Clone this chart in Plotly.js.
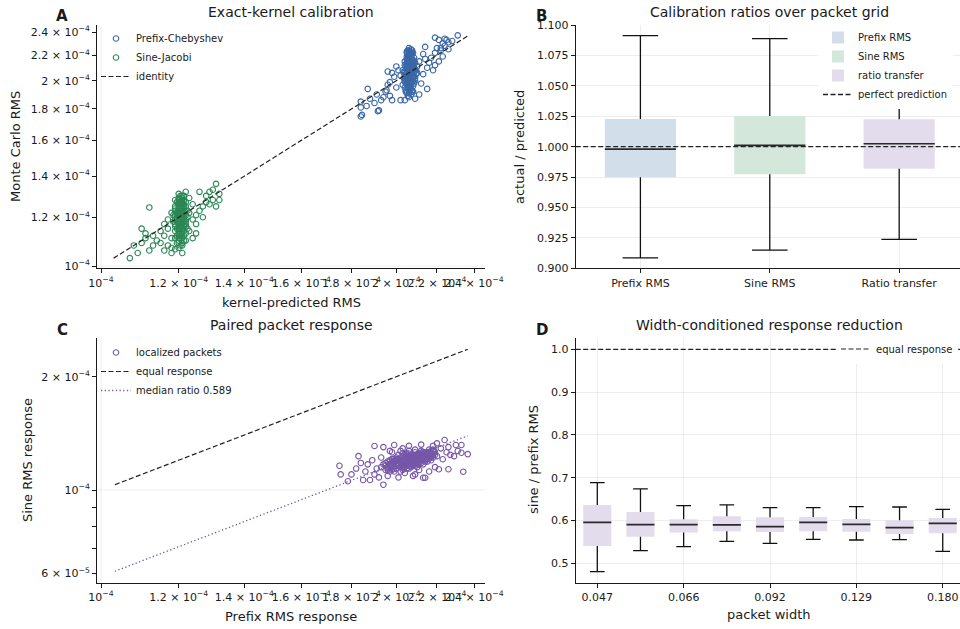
<!DOCTYPE html>
<html><head><meta charset="utf-8">
<script src="https://cdn.plot.ly/plotly-3.0.1.min.js"></script>
<style>html,body{margin:0;padding:0;background:#fff}#chart{width:960px;height:629px}</style>
</head><body><div id="chart"></div>
<script>
// ---------- Panel A: exact-kernel calibration (kernel-predicted vs Monte Carlo RMS) ----------
const aPrefixPred = [
2.05e-4,2.06e-4,2.07e-4,2.05e-4,2.08e-4,2.06e-4,2.04e-4,2.07e-4,2.06e-4,2.05e-4,
2.08e-4,2.04e-4,2.09e-4,2.07e-4,2.06e-4,2.05e-4,2.08e-4,2.03e-4,2.07e-4,2.06e-4,
2.09e-4,2.05e-4,2.04e-4,2.08e-4,2.06e-4,2.07e-4,2.05e-4,2.10e-4,2.04e-4,2.06e-4,
2.07e-4,2.05e-4,2.08e-4,2.06e-4,2.03e-4,2.09e-4,2.07e-4,2.05e-4,2.06e-4,2.08e-4,
2.04e-4,2.06e-4,2.07e-4,2.05e-4,2.06e-4,2.10e-4,2.02e-4,2.07e-4,2.05e-4,2.08e-4,
2.055e-4,2.065e-4,2.075e-4,2.045e-4,2.085e-4,2.065e-4,2.055e-4,2.075e-4,2.045e-4,2.085e-4,
2.065e-4,2.055e-4,2.075e-4,2.035e-4,2.095e-4,2.065e-4,2.055e-4,2.075e-4,2.045e-4,2.085e-4,
2.065e-4,2.055e-4,2.075e-4,2.06e-4,2.07e-4,2.05e-4,2.08e-4,2.06e-4,2.07e-4,2.04e-4,
2.045e-4,2.055e-4,2.065e-4,2.075e-4,2.085e-4,2.05e-4,2.06e-4,2.07e-4,2.08e-4,2.09e-4,
2.045e-4,2.055e-4,2.065e-4,2.075e-4,2.085e-4,2.05e-4,2.06e-4,2.07e-4,2.08e-4,2.04e-4,
2.055e-4,2.065e-4,2.075e-4,2.05e-4,2.06e-4,2.07e-4,2.08e-4,2.045e-4,2.065e-4,2.085e-4,
2.035e-4,2.095e-4,2.055e-4,2.075e-4,2.06e-4,2.07e-4,2.05e-4,2.08e-4,2.065e-4,2.055e-4,
1.84e-4,1.845e-4,1.84e-4,1.865e-4,1.87e-4,1.84e-4,1.88e-4,1.90e-4,1.92e-4,1.94e-4,
1.91e-4,1.93e-4,1.95e-4,1.96e-4,1.97e-4,1.98e-4,1.99e-4,2.00e-4,1.98e-4,2.01e-4,
1.97e-4,2.00e-4,2.02e-4,2.04e-4,2.09e-4,2.11e-4,2.12e-4,2.13e-4,2.11e-4,2.14e-4,
2.13e-4,2.15e-4,2.16e-4,2.17e-4,2.18e-4,2.15e-4,2.19e-4,2.20e-4,2.21e-4,2.22e-4,
2.23e-4,2.24e-4,2.25e-4,2.26e-4,2.28e-4,2.31e-4,2.23e-4,2.21e-4,2.26e-4,2.19e-4,
2.19e-4,2.24e-4,2.14e-4,2.22e-4,1.915e-4,1.955e-4,1.96e-4];
const aPrefixMC = [
2.00e-4,2.05e-4,1.98e-4,2.10e-4,2.12e-4,1.93e-4,2.03e-4,2.20e-4,2.24e-4,2.22e-4,
2.16e-4,1.95e-4,2.02e-4,2.08e-4,2.14e-4,2.06e-4,1.96e-4,2.08e-4,1.90e-4,1.88e-4,
2.09e-4,1.98e-4,2.12e-4,2.04e-4,2.18e-4,2.01e-4,1.91e-4,2.06e-4,2.00e-4,2.10e-4,
2.13e-4,2.16e-4,1.92e-4,2.02e-4,1.97e-4,2.14e-4,2.22e-4,2.04e-4,1.96e-4,2.00e-4,
2.07e-4,2.07e-4,2.11e-4,2.13e-4,1.99e-4,2.11e-4,2.04e-4,1.94e-4,2.19e-4,2.08e-4,
2.03e-4,2.09e-4,2.05e-4,2.09e-4,2.06e-4,1.97e-4,2.15e-4,2.17e-4,1.93e-4,2.10e-4,
2.21e-4,1.94e-4,1.99e-4,2.02e-4,2.05e-4,2.12e-4,2.08e-4,2.14e-4,2.05e-4,2.18e-4,
2.00e-4,1.89e-4,2.24e-4,2.26e-4,2.25e-4,2.01e-4,2.02e-4,2.16e-4,1.96e-4,2.15e-4,
1.92e-4,1.95e-4,1.94e-4,1.93e-4,1.98e-4,2.09e-4,2.03e-4,2.04e-4,2.10e-4,2.00e-4,
2.11e-4,2.12e-4,2.06e-4,2.21e-4,2.03e-4,2.17e-4,2.21e-4,2.19e-4,2.14e-4,1.99e-4,
2.20e-4,2.15e-4,2.07e-4,2.23e-4,2.01e-4,2.16e-4,2.22e-4,2.01e-4,2.04e-4,2.13e-4,
2.06e-4,2.08e-4,2.24e-4,1.92e-4,1.91e-4,2.06e-4,1.97e-4,2.11e-4,2.23e-4,1.99e-4,
1.75e-4,1.76e-4,1.85e-4,1.82e-4,1.94e-4,1.81e-4,1.87e-4,1.84e-4,1.79e-4,1.88e-4,
1.90e-4,1.86e-4,1.92e-4,1.97e-4,1.89e-4,1.86e-4,2.03e-4,1.95e-4,2.06e-4,2.08e-4,
1.99e-4,2.11e-4,1.86e-4,1.86e-4,1.87e-4,1.90e-4,1.98e-4,2.05e-4,2.15e-4,2.17e-4,
2.21e-4,2.10e-4,2.14e-4,2.18e-4,2.08e-4,1.94e-4,2.22e-4,2.26e-4,2.15e-4,2.24e-4,
2.30e-4,2.28e-4,2.33e-4,2.25e-4,2.32e-4,2.37e-4,2.19e-4,2.33e-4,2.31e-4,2.12e-4,
2.35e-4,2.34e-4,2.27e-4,2.26e-4,1.785e-4,1.93e-4,2.07e-4];
const aSinePred = [
1.20e-4,1.21e-4,1.20e-4,1.21e-4,1.19e-4,1.22e-4,1.20e-4,1.21e-4,1.20e-4,1.21e-4,
1.19e-4,1.22e-4,1.20e-4,1.21e-4,1.20e-4,1.21e-4,1.20e-4,1.19e-4,1.22e-4,1.20e-4,
1.21e-4,1.20e-4,1.19e-4,1.22e-4,1.21e-4,1.20e-4,1.21e-4,1.20e-4,1.19e-4,1.22e-4,
1.20e-4,1.21e-4,1.20e-4,1.19e-4,1.21e-4,1.20e-4,1.22e-4,1.21e-4,1.20e-4,1.21e-4,
1.19e-4,1.22e-4,1.20e-4,1.21e-4,1.20e-4,
1.205e-4,1.215e-4,1.205e-4,1.195e-4,1.215e-4,1.205e-4,1.195e-4,1.215e-4,1.205e-4,1.215e-4,
1.205e-4,1.195e-4,1.215e-4,1.205e-4,1.195e-4,1.225e-4,1.205e-4,1.215e-4,1.185e-4,1.225e-4,
1.195e-4,1.205e-4,1.215e-4,1.20e-4,1.21e-4,1.19e-4,1.22e-4,1.205e-4,1.215e-4,1.20e-4,
1.21e-4,1.195e-4,1.205e-4,1.215e-4,1.20e-4,1.21e-4,1.19e-4,1.22e-4,1.205e-4,1.215e-4,
1.20e-4,1.21e-4,1.195e-4,1.205e-4,1.215e-4,1.20e-4,1.21e-4,1.19e-4,1.22e-4,1.205e-4,
1.215e-4,1.20e-4,1.21e-4,1.195e-4,1.205e-4,1.215e-4,1.20e-4,1.21e-4,1.185e-4,1.225e-4,
1.07e-4,1.08e-4,1.09e-4,1.10e-4,1.11e-4,1.10e-4,1.12e-4,1.12e-4,1.13e-4,1.14e-4,
1.15e-4,1.15e-4,1.16e-4,1.17e-4,1.16e-4,1.17e-4,1.18e-4,1.17e-4,1.18e-4,1.18e-4,
1.16e-4,1.19e-4,1.21e-4,1.23e-4,1.24e-4,1.25e-4,1.27e-4,1.28e-4,1.26e-4,1.29e-4,
1.22e-4,1.23e-4,1.24e-4,1.25e-4,1.26e-4,1.27e-4,1.28e-4,1.29e-4,1.30e-4,1.31e-4,
1.31e-4,1.32e-4,1.32e-4,1.30e-4,1.24e-4,1.23e-4,1.25e-4,1.18e-4,1.13e-4,1.11e-4];
const aSineMC = [
1.18e-4,1.20e-4,1.15e-4,1.22e-4,1.17e-4,1.19e-4,1.24e-4,1.13e-4,1.10e-4,1.26e-4,
1.21e-4,1.16e-4,1.20e-4,1.17e-4,1.27e-4,1.29e-4,1.31e-4,1.14e-4,1.23e-4,1.12e-4,
1.08e-4,1.07e-4,1.19e-4,1.21e-4,1.15e-4,1.22e-4,1.24e-4,1.16e-4,1.23e-4,1.13e-4,
1.26e-4,1.11e-4,1.28e-4,1.11e-4,1.19e-4,1.09e-4,1.27e-4,1.30e-4,1.14e-4,1.21e-4,
1.25e-4,1.18e-4,1.19e-4,1.23e-4,1.17e-4,
1.16e-4,1.18e-4,1.21e-4,1.15e-4,1.25e-4,1.12e-4,1.20e-4,1.10e-4,1.23e-4,1.14e-4,
1.19e-4,1.27e-4,1.28e-4,1.30e-4,1.09e-4,1.20e-4,1.13e-4,1.22e-4,1.18e-4,1.15e-4,
1.22e-4,1.24e-4,1.16e-4,1.13e-4,1.27e-4,1.24e-4,1.25e-4,1.11e-4,1.20e-4,1.21e-4,
1.09e-4,1.12e-4,1.27e-4,1.26e-4,1.29e-4,1.14e-4,1.28e-4,1.10e-4,1.17e-4,1.12e-4,
1.23e-4,1.16e-4,1.18e-4,1.08e-4,1.30e-4,1.11e-4,1.25e-4,1.16e-4,1.17e-4,1.26e-4,
1.24e-4,1.18e-4,1.28e-4,1.22e-4,1.15e-4,1.19e-4,1.25e-4,1.18e-4,1.21e-4,1.23e-4,
1.03e-4,1.08e-4,1.05e-4,1.15e-4,1.11e-4,1.09e-4,1.06e-4,1.245e-4,1.12e-4,1.10e-4,
1.09e-4,1.14e-4,1.12e-4,1.08e-4,1.17e-4,1.15e-4,1.07e-4,1.19e-4,1.22e-4,1.11e-4,
1.06e-4,1.065e-4,1.05e-4,1.22e-4,1.19e-4,1.21e-4,1.25e-4,1.27e-4,1.32e-4,1.32e-4,
1.32e-4,1.14e-4,1.11e-4,1.17e-4,1.23e-4,1.20e-4,1.30e-4,1.26e-4,1.28e-4,1.25e-4,
1.36e-4,1.28e-4,1.31e-4,1.33e-4,1.26e-4,1.29e-4,1.13e-4,1.05e-4,1.08e-4,1.13e-4];

// ---------- Panel B: calibration ratios (box summaries) ----------
const bCats   = ["Prefix RMS", "Sine RMS", "Ratio transfer"];
const bLegend = ["Prefix RMS", "Sine RMS", "ratio transfer"];
const bLow  = [0.9085, 0.9150, 0.9238];
const bQ1   = [0.9748, 0.9773, 0.9819];
const bMed  = [0.9980, 1.0010, 1.0024];
const bQ3   = [1.0227, 1.0252, 1.0225];
const bHigh = [1.0912, 1.0888, 1.0650];

// ---------- Panel C: paired packet response ----------
const cPrefix = [
1.93e-4,1.94e-4,1.95e-4,1.96e-4,1.96e-4,1.97e-4,1.98e-4,1.98e-4,1.99e-4,1.99e-4,
2.00e-4,2.00e-4,2.01e-4,2.01e-4,2.02e-4,2.02e-4,2.03e-4,2.03e-4,2.04e-4,2.04e-4,
2.05e-4,2.05e-4,2.05e-4,2.06e-4,2.06e-4,2.07e-4,2.07e-4,2.08e-4,2.08e-4,2.08e-4,
2.09e-4,2.09e-4,2.10e-4,2.10e-4,2.11e-4,2.11e-4,2.12e-4,2.12e-4,2.13e-4,2.13e-4,
2.14e-4,2.14e-4,2.15e-4,2.15e-4,2.16e-4,2.16e-4,2.17e-4,2.17e-4,2.18e-4,2.19e-4,
2.20e-4,2.18e-4,2.03e-4,2.06e-4,2.10e-4,2.01e-4,2.12e-4,1.97e-4,2.04e-4,2.09e-4,
1.95e-4,2.00e-4,2.07e-4,2.13e-4,2.02e-4,2.11e-4,2.05e-4,2.08e-4,2.10e-4,2.14e-4,
2.16e-4,1.99e-4,2.06e-4,2.03e-4,2.12e-4,
2.015e-4,2.025e-4,2.035e-4,2.045e-4,2.055e-4,2.065e-4,2.075e-4,2.085e-4,2.095e-4,2.105e-4,
2.115e-4,2.125e-4,2.135e-4,2.145e-4,2.155e-4,2.165e-4,2.175e-4,1.985e-4,1.975e-4,1.965e-4,
2.045e-4,2.065e-4,2.095e-4,2.125e-4,2.085e-4,2.035e-4,2.155e-4,2.105e-4,2.005e-4,2.185e-4,
1.95e-4,1.96e-4,1.97e-4,1.98e-4,1.99e-4,2.00e-4,2.01e-4,2.02e-4,2.03e-4,2.04e-4,
2.05e-4,2.06e-4,2.07e-4,2.08e-4,2.09e-4,2.10e-4,2.11e-4,2.12e-4,2.13e-4,2.14e-4,
2.15e-4,2.16e-4,2.17e-4,2.18e-4,2.19e-4,1.97e-4,1.99e-4,2.01e-4,2.03e-4,2.05e-4,
2.07e-4,2.09e-4,2.11e-4,2.13e-4,2.15e-4,2.17e-4,1.98e-4,2.00e-4,2.02e-4,2.04e-4,
2.06e-4,2.08e-4,2.10e-4,2.12e-4,2.14e-4,2.16e-4,2.00e-4,2.04e-4,2.08e-4,2.12e-4,
2.02e-4,2.06e-4,2.10e-4,2.14e-4,1.96e-4,2.18e-4,2.05e-4,2.09e-4,2.13e-4,2.03e-4,
1.75e-4,1.755e-4,1.785e-4,1.80e-4,1.83e-4,1.82e-4,1.84e-4,1.85e-4,1.86e-4,1.87e-4,
1.88e-4,1.89e-4,1.90e-4,1.90e-4,1.91e-4,1.92e-4,1.94e-4,1.94e-4,1.93e-4,1.96e-4,
1.99e-4,1.98e-4,2.01e-4,2.03e-4,2.06e-4,2.09e-4,2.12e-4,2.13e-4,2.14e-4,2.16e-4,
2.18e-4,2.19e-4,2.21e-4,2.22e-4,2.23e-4,2.24e-4,2.25e-4,2.26e-4,2.26e-4,2.27e-4,
2.29e-4,2.30e-4,2.31e-4,2.33e-4,2.33e-4,2.34e-4,2.365e-4,2.20e-4,2.08e-4,1.97e-4];
const cSine = [
1.15e-4,1.17e-4,1.13e-4,1.19e-4,1.15e-4,1.17e-4,1.13e-4,1.21e-4,1.16e-4,1.19e-4,
1.14e-4,1.22e-4,1.18e-4,1.16e-4,1.20e-4,1.12e-4,1.17e-4,1.23e-4,1.19e-4,1.15e-4,
1.21e-4,1.17e-4,1.25e-4,1.19e-4,1.14e-4,1.22e-4,1.18e-4,1.20e-4,1.24e-4,1.16e-4,
1.21e-4,1.18e-4,1.23e-4,1.19e-4,1.25e-4,1.21e-4,1.22e-4,1.18e-4,1.24e-4,1.20e-4,
1.26e-4,1.22e-4,1.23e-4,1.19e-4,1.25e-4,1.21e-4,1.27e-4,1.23e-4,1.24e-4,1.26e-4,
1.23e-4,1.28e-4,1.13e-4,1.27e-4,1.15e-4,1.24e-4,1.27e-4,1.20e-4,1.11e-4,1.28e-4,
1.16e-4,1.18e-4,1.15e-4,1.17e-4,1.27e-4,1.13e-4,1.19e-4,1.22e-4,1.21e-4,1.20e-4,
1.28e-4,1.12e-4,1.23e-4,1.20e-4,1.24e-4,
1.19e-4,1.16e-4,1.21e-4,1.18e-4,1.23e-4,1.20e-4,1.17e-4,1.23e-4,1.20e-4,1.25e-4,
1.22e-4,1.20e-4,1.25e-4,1.23e-4,1.26e-4,1.24e-4,1.25e-4,1.18e-4,1.15e-4,1.17e-4,
1.25e-4,1.16e-4,1.24e-4,1.26e-4,1.19e-4,1.14e-4,1.22e-4,1.17e-4,1.20e-4,1.27e-4,
1.18e-4,1.14e-4,1.19e-4,1.16e-4,1.21e-4,1.17e-4,1.20e-4,1.15e-4,1.19e-4,1.22e-4,
1.16e-4,1.21e-4,1.24e-4,1.17e-4,1.23e-4,1.20e-4,1.19e-4,1.25e-4,1.22e-4,1.24e-4,
1.21e-4,1.23e-4,1.22e-4,1.27e-4,1.24e-4,1.12e-4,1.14e-4,1.21e-4,1.15e-4,1.23e-4,
1.20e-4,1.26e-4,1.17e-4,1.26e-4,1.25e-4,1.20e-4,1.19e-4,1.16e-4,1.22e-4,1.17e-4,
1.18e-4,1.21e-4,1.22e-4,1.20e-4,1.23e-4,1.26e-4,1.20e-4,1.24e-4,1.18e-4,1.21e-4,
1.18e-4,1.25e-4,1.18e-4,1.19e-4,1.13e-4,1.22e-4,1.14e-4,1.16e-4,1.21e-4,1.25e-4,
1.16e-4,1.10e-4,1.055e-4,1.10e-4,1.23e-4,1.14e-4,1.18e-4,1.063e-4,1.12e-4,1.17e-4,
1.063e-4,1.20e-4,1.309e-4,1.10e-4,1.14e-4,1.08e-4,1.30e-4,1.033e-4,1.22e-4,1.09e-4,
1.317e-4,1.26e-4,1.08e-4,1.29e-4,1.31e-4,1.10e-4,1.32e-4,1.078e-4,1.078e-4,1.12e-4,
1.31e-4,1.15e-4,1.135e-4,1.29e-4,1.207e-4,1.358e-4,1.26e-4,1.135e-4,1.30e-4,1.24e-4,
1.23e-4,1.317e-4,1.27e-4,1.317e-4,1.256e-4,1.118e-4,1.245e-4,1.33e-4,1.09e-4,1.27e-4];
const cMedianRatio = 0.589;

// ---------- Panel D: width-conditioned response reduction (box summaries) ----------
const dWidths = [0.047, 0.0557, 0.066, 0.078, 0.092, 0.109, 0.129, 0.152, 0.180];
const dLow  = [0.4805, 0.5296, 0.5390, 0.5514, 0.5467, 0.5561, 0.5545, 0.5553, 0.5280];
const dQ1   = [0.5405, 0.5623, 0.5717, 0.5748, 0.5732, 0.5748, 0.5740, 0.5685, 0.5701];
const dMed  = [0.5958, 0.5903, 0.5903, 0.5896, 0.5857, 0.5958, 0.5911, 0.5833, 0.5935];
const dQ3   = [0.6363, 0.6200, 0.6028, 0.6098, 0.6075, 0.6083, 0.6036, 0.6005, 0.6060];
const dHigh = [0.6885, 0.6737, 0.6347, 0.6363, 0.6300, 0.6300, 0.6324, 0.6316, 0.6262];

// ---------- tick labels ----------
const logTickVals = [1e-4, 1.2e-4, 1.4e-4, 1.6e-4, 1.8e-4, 2e-4, 2.2e-4, 2.4e-4];
const logTickText = ["10<sup>−4</sup>", "1.2 × 10<sup>−4</sup>", "1.4 × 10<sup>−4</sup>", "1.6 × 10<sup>−4</sup>",
                     "1.8 × 10<sup>−4</sup>", "2 × 10<sup>−4</sup>", "2.2 × 10<sup>−4</sup>", "2.4 × 10<sup>−4</sup>"];
const cYTickVals = [6e-5, 7e-5, 8e-5, 9e-5, 1e-4, 2e-4];
const cYTickText = ["6 × 10<sup>−5</sup>", "", "", "", "10<sup>−4</sup>", "2 × 10<sup>−4</sup>"];

// ---------- styling ----------
const W = 960, H = 629;
const FONT = "DejaVu Sans, Verdana, sans-serif";
const INK = "#1a1a1a";
const GRID = "rgba(0,0,0,0.075)";
const C_BLUE = "#3a67a6", C_GREEN = "#2b8754", C_PURPLE = "#7557a8";
const bFill = ["#d3deeb", "#d3e7da", "#e2dcec"];
const dFill = "#e2dcec";
const px = x => x / W;
const py = y => 1 - y / H;

function boxParts(pos, low, q1, med, q3, high, boxW, capW) {
  const wx = [], wy = [], mx = [], my = [];
  pos.forEach((p, i) => {
    wx.push(p, p, null, p, p, null, p - capW / 2, p + capW / 2, null, p - capW / 2, p + capW / 2, null);
    wy.push(q3[i], high[i], null, q1[i], low[i], null, high[i], high[i], null, low[i], low[i], null);
    mx.push(p - boxW / 2, p + boxW / 2, null);
    my.push(med[i], med[i], null);
  });
  return {wx, wy, mx, my};
}

const traces = [];
// A
const aAll = aPrefixPred.concat(aPrefixMC, aSinePred, aSineMC);
const aLo = Math.min(...aAll), aHi = Math.max(...aAll);
const openMarker = c => ({symbol: "circle-open", size: 5.5, color: c, line: {width: 1.1, color: c}});
traces.push({type: "scatter", mode: "markers", x: aPrefixPred, y: aPrefixMC, name: "Prefix-Chebyshev",
  marker: openMarker(C_BLUE), xaxis: "x", yaxis: "y", legend: "legend"});
traces.push({type: "scatter", mode: "markers", x: aSinePred, y: aSineMC, name: "Sine-Jacobi",
  marker: openMarker(C_GREEN), xaxis: "x", yaxis: "y", legend: "legend"});
traces.push({type: "scatter", mode: "lines", x: [aLo, aHi], y: [aLo, aHi], name: "identity",
  line: {color: "#222", width: 1.2, dash: "5px,2.5px"}, xaxis: "x", yaxis: "y", legend: "legend"});

// B
const bPos = bCats.map((_, i) => i + 1);
const bRange = [0.5, 3.47];
bCats.forEach((c, i) => {
  traces.push({type: "bar", x: [bPos[i]], y: [bQ3[i] - bQ1[i]], base: [bQ1[i]], width: 0.55,
    marker: {color: bFill[i], line: {width: 0}}, name: bLegend[i], xaxis: "x2", yaxis: "y2", legend: "legend2"});
});
const bp = boxParts(bPos, bLow, bQ1, bMed, bQ3, bHigh, 0.55, 0.275);
traces.push({type: "scatter", mode: "lines", x: bp.wx, y: bp.wy, line: {color: "#111", width: 1.3},
  showlegend: false, xaxis: "x2", yaxis: "y2"});
traces.push({type: "scatter", mode: "lines", x: bp.mx, y: bp.my, line: {color: "#2a2a2a", width: 1.7},
  showlegend: false, xaxis: "x2", yaxis: "y2"});
traces.push({type: "scatter", mode: "lines", x: bRange, y: [1, 1], name: "perfect prediction",
  line: {color: "#222", width: 1.3, dash: "5px,2.5px"}, xaxis: "x2", yaxis: "y2", legend: "legend2"});

// C
const cAll = cPrefix.concat(cSine);
const cLo = Math.min(...cAll), cHi = Math.max(...cAll);
traces.push({type: "scatter", mode: "markers", x: cPrefix, y: cSine, name: "localized packets",
  marker: openMarker(C_PURPLE), xaxis: "x3", yaxis: "y3", legend: "legend3"});
traces.push({type: "scatter", mode: "lines", x: [cLo, cHi], y: [cLo, cHi], name: "equal response",
  line: {color: "#222", width: 1.2, dash: "5px,2.5px"}, xaxis: "x3", yaxis: "y3", legend: "legend3"});
traces.push({type: "scatter", mode: "lines", x: [cLo, cHi], y: [cLo * cMedianRatio, cHi * cMedianRatio],
  name: "median ratio " + cMedianRatio.toFixed(3),
  line: {color: C_PURPLE, width: 1.3, dash: "1.3px,2.4px"}, xaxis: "x3", yaxis: "y3", legend: "legend3"});

// D
const dPos = dWidths.map((_, i) => i + 1);
const dRange = [0.5, 9.4];
traces.push({type: "bar", x: dPos, y: dQ3.map((v, i) => v - dQ1[i]), base: dQ1, width: 0.65,
  marker: {color: dFill, line: {width: 0}}, showlegend: false, xaxis: "x4", yaxis: "y4"});
const dp = boxParts(dPos, dLow, dQ1, dMed, dQ3, dHigh, 0.65, 0.34);
traces.push({type: "scatter", mode: "lines", x: dp.wx, y: dp.wy, line: {color: "#111", width: 1.3},
  showlegend: false, xaxis: "x4", yaxis: "y4"});
traces.push({type: "scatter", mode: "lines", x: dp.mx, y: dp.my, line: {color: "#2a2a2a", width: 1.7},
  showlegend: false, xaxis: "x4", yaxis: "y4"});
traces.push({type: "scatter", mode: "lines", x: dRange, y: [1, 1], name: "equal response",
  line: {color: "#222", width: 1.2, dash: "5px,2.5px"}, xaxis: "x4", yaxis: "y4", legend: "legend4"});

traces.forEach(t => { t.hoverinfo = "skip"; });

const axBase = {showline: true, linecolor: INK, linewidth: 1, ticks: "outside", ticklen: 4, tickwidth: 1,
  tickcolor: INK, zeroline: false, showgrid: false, tickangle: 0, automargin: false,
  tickfont: {family: FONT, size: 11, color: INK}};
const domAX = [px(97), px(485)], domBX = [px(575.7), 1];
const domTopY = [py(268.3), py(25)], domBotY = [py(582.7), py(338.3)];

const gridLine = (xref, yref, orient, v) => orient === "v"
  ? {type: "line", xref: xref, yref: yref + " domain", x0: v, x1: v, y0: 0, y1: 1, layer: "below", line: {color: GRID, width: 0.9}}
  : {type: "line", xref: xref + " domain", yref: yref, x0: 0, x1: 1, y0: v, y1: v, layer: "below", line: {color: GRID, width: 0.9}};

const legBase = {font: {family: FONT, size: 10, color: INK}, borderwidth: 0, xanchor: "left", yanchor: "top",
  xref: "paper", yref: "paper", tracegroupgap: 0};

const ann = (x, y, text, size, extra) => Object.assign({xref: "paper", yref: "paper", x: px(x), y: py(y),
  text: text, showarrow: false, xanchor: "center", yanchor: "middle",
  font: {family: FONT, size: size, color: INK}}, extra || {});

const layout = {
  width: W, height: H, margin: {l: 0, r: 0, t: 0, b: 0}, paper_bgcolor: "#fff", plot_bgcolor: "rgba(0,0,0,0)",
  barmode: "overlay", showlegend: true,
  xaxis: Object.assign({}, axBase, {type: "log", domain: domAX, range: [-4.0041, -3.6086], anchor: "y",
    tickmode: "array", tickvals: logTickVals, ticktext: logTickText}),
  yaxis: Object.assign({}, axBase, {type: "log", domain: domTopY, range: [-4.0037, -3.6084], anchor: "x",
    tickmode: "array", tickvals: logTickVals, ticktext: logTickText}),
  xaxis2: Object.assign({}, axBase, {domain: domBX, range: bRange, anchor: "y2", tickmode: "array",
    tickvals: bPos, ticktext: bCats, showgrid: true, gridcolor: GRID, gridwidth: 0.9}),
  yaxis2: Object.assign({}, axBase, {domain: domTopY, range: [0.9, 1.1], anchor: "x2", tickmode: "linear",
    tick0: 0.9, dtick: 0.025, tickformat: ".3f", showgrid: true, gridcolor: GRID, gridwidth: 0.9}),
  xaxis3: Object.assign({}, axBase, {type: "log", domain: domAX, range: [-4.0041, -3.6086], anchor: "y3",
    tickmode: "array", tickvals: logTickVals, ticktext: logTickText}),
  yaxis3: Object.assign({}, axBase, {type: "log", domain: domBotY, range: [-4.2462, -3.5971], anchor: "x3",
    tickmode: "array", tickvals: cYTickVals, ticktext: cYTickText}),
  xaxis4: Object.assign({}, axBase, {domain: domBX, range: dRange, anchor: "y4", tickmode: "array",
    tickvals: [1, 3, 5, 7, 9], ticktext: [0, 2, 4, 6, 8].map(i => dWidths[i].toFixed(3)),
    showgrid: true, gridcolor: GRID, gridwidth: 0.9}),
  yaxis4: Object.assign({}, axBase, {domain: domBotY, range: [0.4547, 1.0257], anchor: "x4", tickmode: "linear",
    tick0: 0.5, dtick: 0.1, tickformat: ".1f", showgrid: true, gridcolor: GRID, gridwidth: 0.9}),
  legend: Object.assign({}, legBase, {x: px(96), y: py(24), bgcolor: "rgba(255,255,255,0)"}),
  legend2: Object.assign({}, legBase, {x: px(818), y: py(23), bgcolor: "#ffffff"}),
  legend3: Object.assign({}, legBase, {x: px(96), y: py(338), bgcolor: "rgba(255,255,255,0)"}),
  legend4: Object.assign({}, legBase, {x: px(836), y: py(349), yanchor: "middle", bgcolor: "#ffffff"}),
  shapes: [gridLine("x", "y", "v", 1e-4), gridLine("x", "y", "h", 1e-4),
           gridLine("x3", "y3", "v", 1e-4), gridLine("x3", "y3", "h", 1e-4)],
  annotations: [
    ann(62, 16, "<b>A</b>", 15), ann(541, 16, "<b>B</b>", 15), ann(62, 330, "<b>C</b>", 15), ann(542, 330, "<b>D</b>", 15),
    ann(291, 12, "Exact-kernel calibration", 14), ann(769, 12, "Calibration ratios over packet grid", 14),
    ann(291, 325, "Paired packet response", 14), ann(769, 325, "Width-conditioned response reduction", 14),
    ann(291, 302, "kernel-predicted RMS", 13), ann(291, 616, "Prefix RMS response", 13), ann(769, 614, "packet width", 13),
    ann(16, 147, "Monte Carlo RMS", 13, {textangle: -90}), ann(520, 147, "actual / predicted", 13, {textangle: -90}),
    ann(27, 460, "Sine RMS response", 13, {textangle: -90}), ann(533, 460, "sine / prefix RMS", 13, {textangle: -90})
  ]
};

Plotly.newPlot("chart", traces, layout, {staticPlot: true, displayModeBar: false});
</script>
</body></html>
